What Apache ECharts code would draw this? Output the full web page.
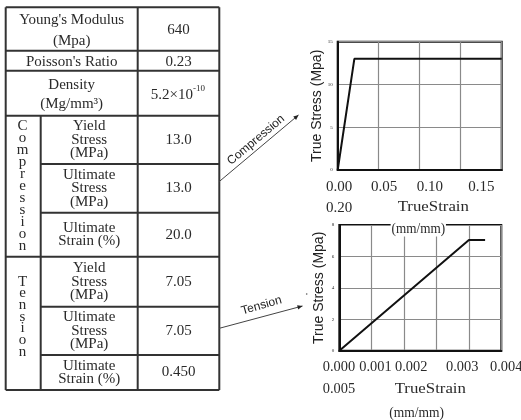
<!DOCTYPE html>
<html>
<head>
<meta charset="utf-8">
<script src="https://cdn.jsdelivr.net/npm/echarts@6/dist/echarts.min.js"></script>
<style>
  html, body { margin: 0; padding: 0; background: #fff; }
  #main { width: 521px; height: 420px; }
</style>
</head>
<body>
<div id="main"></div>
<script>
// ---- Material property table ----
const propNames = ["Young's Modulus\n(Mpa)", "Poisson's Ratio", "Density\n(Mg/mm³)"];
const propValues = ['640', '0.23', '5.2×10^-10'];
const groupNames = ['Compression', 'Tension'];
const compressionProps = ['Yield\nStress\n(MPa)', 'Ultimate\nStress\n(MPa)', 'Ultimate\nStrain (%)'];
const compressionValues = ['13.0', '13.0', '20.0'];
const tensionProps = ['Yield\nStress\n(MPa)', 'Ultimate\nStress\n(MPa)', 'Ultimate\nStrain (%)'];
const tensionValues = ['7.05', '7.05', '0.450'];

// ---- Stress-strain curves ----
const compStrain = [0, 0.0203, 0.2];
const compStress = [0, 13, 13];
const tensStrain = [0, 0.0040, 0.0045];
const tensStress = [0, 7.05, 7.05];
const compTicks = ['0.00', '0.05', '0.10', '0.15', '0.20'];
const tensTicks = ['0.000', '0.001', '0.002', '0.003', '0.004', '0.005'];
const xName = ['TrueStrain', '(mm/mm)'];
const yName = 'True Stress (Mpa)';
const arrowNames = ['Compression', 'Tension'];

// ---- layout ----
const SERIF = '"Liberation Serif", "Times New Roman", serif';
const SANS = '"Liberation Sans", Arial, sans-serif';
const INK = '#2a2a2a';
const T = { left: 5.7, right: 219.3, colGroup: 40.7, colValue: 137.7 };
const rowEdges = [7.3, 50.7, 70.7, 115.7, 164, 212.7, 256.7, 306.7, 355, 390];
const topLineHeights = [21, 14, 19];

const g = [];
function text(x, y, str, opt) {
  opt = opt || {};
  const lines = str.split('\n');
  const lh = opt.lineHeight || 14;
  lines.forEach((s, i) => {
    g.push({
      type: 'text', x: x, y: y + (i - (lines.length - 1) / 2) * lh, z: opt.z || 50,
      rotation: opt.rotation || 0, scaleX: opt.scaleX || 1,
      style: {
        text: s, fill: opt.color || INK,
        font: (opt.style || '') + ' ' + (opt.size || 15) + 'px ' + (opt.family || SERIF),
        align: opt.align || 'center', verticalAlign: 'middle',
        textAlign: opt.align || 'center', textVerticalAlign: 'middle',
        backgroundColor: opt.bg, padding: opt.bg ? [0, 1] : undefined
      }
    });
  });
}
function line(x1, y1, x2, y2, w, c) {
  g.push({ type: 'line', z: 40, shape: { x1, y1, x2, y2 },
    style: { stroke: c || '#333', lineWidth: w || 2 } });
}

// table frame
const tTop = rowEdges[0], tBottom = rowEdges[rowEdges.length - 1];
line(T.left, tTop, T.right, tTop);
line(T.left, tBottom, T.right, tBottom);
line(T.left, tTop, T.left, tBottom);
line(T.right, tTop, T.right, tBottom);
line(T.colValue, tTop, T.colValue, tBottom);
line(T.colGroup, rowEdges[3], T.colGroup, tBottom);
rowEdges.slice(1, -1).forEach((y, i) => {
  const idx = i + 1;
  // the group column is only divided at group boundaries
  const x0 = (idx <= 3 || idx === 6) ? T.left : T.colGroup;
  line(x0, y, T.right, y);
});

// general properties
propNames.forEach((name, i) => {
  const cy = (rowEdges[i] + rowEdges[i + 1]) / 2 + 1.5;
  text((T.left + T.colValue) / 2, cy, name, { lineHeight: topLineHeights[i] });
  const v = propValues[i];
  if (v.indexOf('^') >= 0) {
    const parts = v.split('^');
    g.push({ type: 'text', x: 193, y: cy, z: 50,
      style: { text: parts[0], fill: INK, font: '15px ' + SERIF,
        align: 'right', verticalAlign: 'middle', textAlign: 'right', textVerticalAlign: 'middle' } });
    g.push({ type: 'text', x: 193, y: cy - 6, z: 50,
      style: { text: parts[1], fill: INK, font: '9px ' + SERIF,
        align: 'left', verticalAlign: 'middle', textAlign: 'left', textVerticalAlign: 'middle' } });
  } else {
    text((T.colValue + T.right) / 2, cy, v);
  }
});

// grouped properties
[[compressionProps, compressionValues, 3], [tensionProps, tensionValues, 6]].forEach(([names, vals, r0]) => {
  names.forEach((name, i) => {
    const cy = (rowEdges[r0 + i] + rowEdges[r0 + i + 1]) / 2;
    text((T.colGroup + T.colValue) / 2, cy, name, { lineHeight: 13.7 });
    text((T.colValue + T.right) / 2, cy, vals[i]);
  });
});
// vertical group labels
text(22.5, 186.5, groupNames[0].split('').join('\n'), { lineHeight: 12 });
text(22.5, 316.7, groupNames[1].split('').join('\n'), { lineHeight: 11.7 });

// arrows to the curves
function arrow(x1, y1, x2, y2) {
  line(x1, y1, x2, y2, 1, '#444');
  const a = Math.atan2(y2 - y1, x2 - x1), L = 5, W = 2.2;
  const bx = x2 - L * Math.cos(a), by = y2 - L * Math.sin(a);
  g.push({ type: 'polygon', z: 41, shape: { points: [[x2, y2],
    [bx + W * Math.sin(a), by - W * Math.cos(a)], [bx - W * Math.sin(a), by + W * Math.cos(a)]] },
    style: { fill: '#222' } });
}
arrow(T.right, 181.5, 298.5, 115);
arrow(T.right, 328.3, 302.5, 306);
text(256, 140, arrowNames[0], { family: SANS, size: 12, rotation: 40 * Math.PI / 180, color: '#222' });
text(261.5, 305.5, arrowNames[1], { family: SANS, size: 12, rotation: 16 * Math.PI / 180, color: '#222' });
g.push({ type: 'circle', z: 41, shape: { cx: 306.7, cy: 294, r: 0.8 }, style: { fill: '#555' } });

// strain tick text under each plot
const compTickX = [326, 371, 416.7, 468.3];
compTicks.slice(0, 4).forEach((t, i) => text(compTickX[i], 187.5, t, { align: 'left' }));
text(326, 208.3, compTicks[4], { align: 'left' });
text(433.3, 207.5, xName[0], { scaleX: 1.12 });
text(418.3, 229, xName[1], { bg: '#fff', z: 120, scaleX: 0.88 });

const tensTickX = [322.7, 359.3, 395, 446, 490];
tensTicks.slice(0, 5).forEach((t, i) => text(tensTickX[i], 367.5, t, { align: 'left', size: 14.4 }));
text(322.7, 389, tensTicks[5], { align: 'left', size: 14.4 });
text(430.3, 389, xName[0], { scaleX: 1.12 });
text(416.7, 413, xName[1], { scaleX: 0.9 });

const grids = [
  { left: 337.7, top: 41.7, width: 164, height: 128.3 },
  { left: 339.3, top: 225, width: 162, height: 125.7 }
].map(o => Object.assign(o, { show: true, borderColor: '#111', borderWidth: 2, backgroundColor: 'transparent' }));

const xAxisBase = {
  type: 'value', min: 0,
  axisLine: { show: true, lineStyle: { color: '#111', width: 2 } },
  axisTick: { show: false }, axisLabel: { show: false },
  splitLine: { show: true, lineStyle: { color: '#8a8a8a', width: 1.2 } }
};
const yAxisBase = {
  type: 'value', min: 0,
  name: yName, nameLocation: 'middle', nameGap: 13,
  nameTextStyle: { fontFamily: SANS, fontSize: 14, color: '#222' },
  axisLine: { show: true, lineStyle: { color: '#111', width: 2 } },
  axisTick: { show: false },
  axisLabel: { fontSize: 5, color: '#222', margin: 5, fontFamily: SERIF },
  splitLine: { show: true, lineStyle: { color: '#8a8a8a', width: 1.2 } }
};

const chart = echarts.init(document.getElementById('main'), null, { renderer: 'canvas' });
chart.setOption({
  animation: false,
  backgroundColor: '#fff',
  grid: grids,
  xAxis: [
    Object.assign({}, xAxisBase, { gridIndex: 0, max: 0.2, interval: 0.05 }),
    Object.assign({}, xAxisBase, { gridIndex: 1, max: 0.005, interval: 0.001 })
  ],
  yAxis: [
    Object.assign({}, yAxisBase, { gridIndex: 0, max: 15, interval: 5 }),
    Object.assign({}, yAxisBase, { gridIndex: 1, max: 8, interval: 2 })
  ],
  series: [
    { type: 'line', xAxisIndex: 0, yAxisIndex: 0, symbol: 'none',
      lineStyle: { color: '#111', width: 2 },
      data: compStrain.map((x, i) => [x, compStress[i]]) },
    { type: 'line', xAxisIndex: 1, yAxisIndex: 1, symbol: 'none',
      lineStyle: { color: '#111', width: 2 },
      data: tensStrain.map((x, i) => [x, tensStress[i]]) }
  ],
  graphic: { elements: g }
});
</script>
</body>
</html>
